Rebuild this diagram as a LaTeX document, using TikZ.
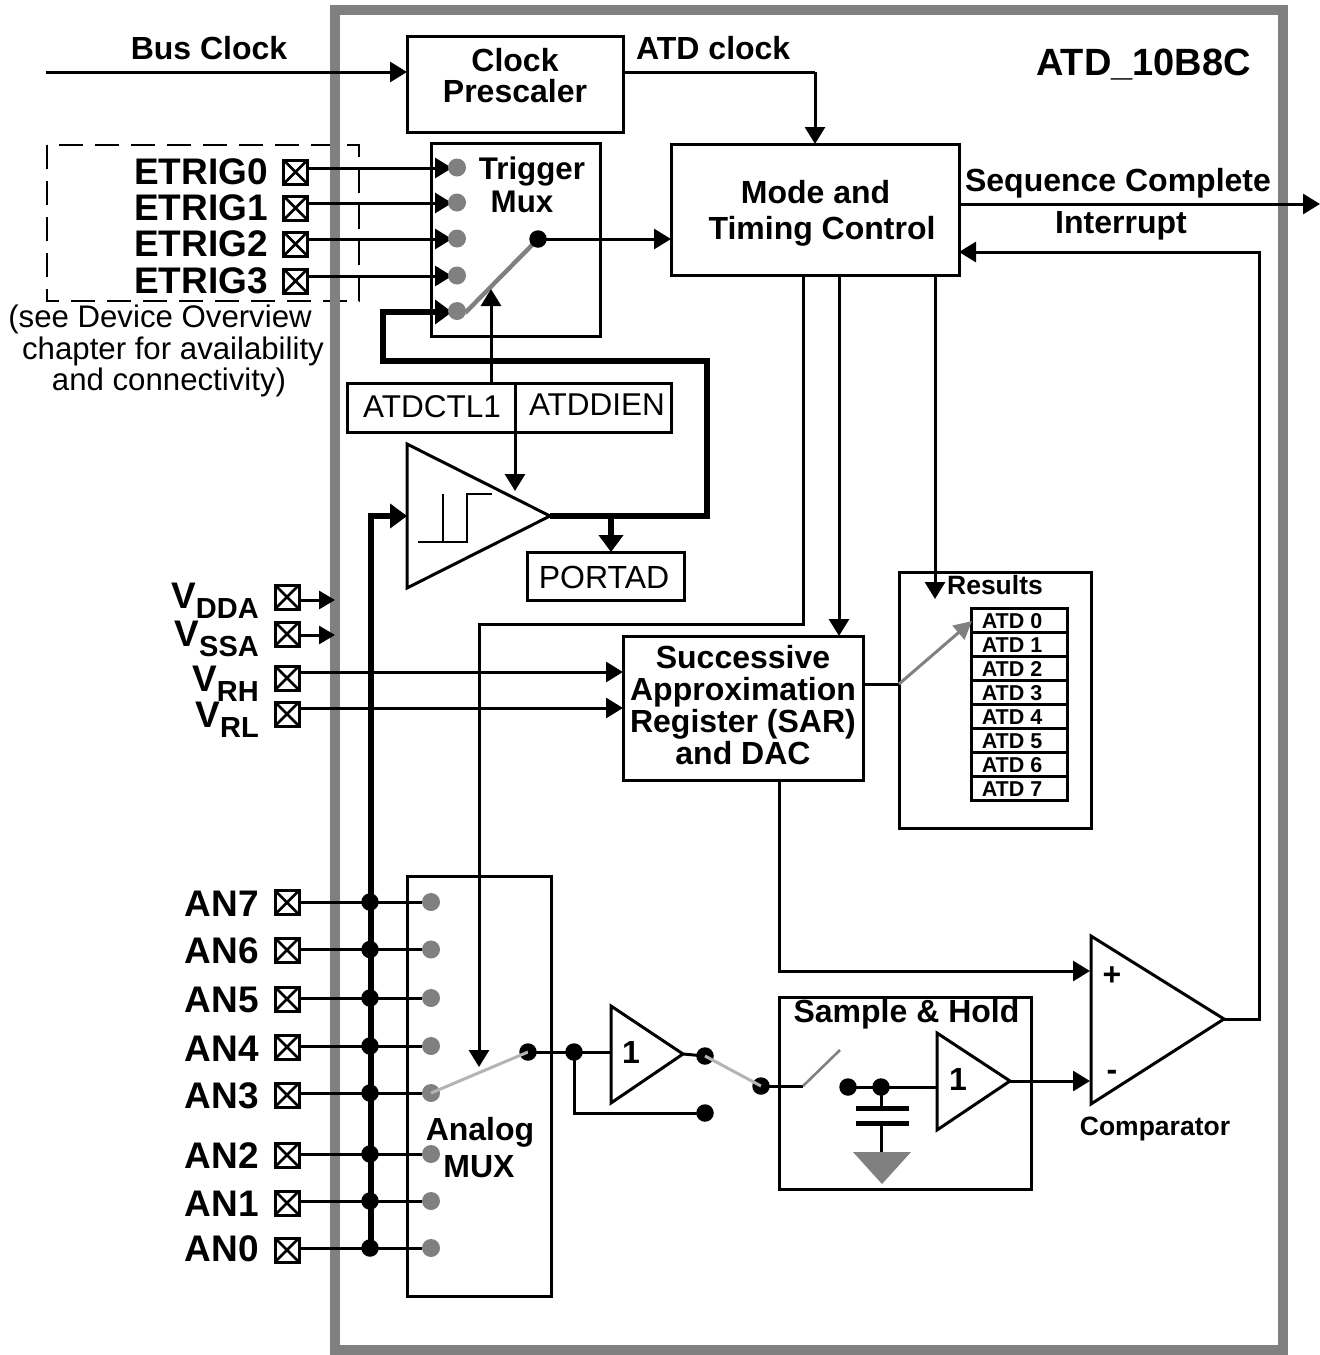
\documentclass[tikz,border=0pt]{standalone}
\usepackage{fontspec}
\setmainfont{Liberation Sans}
\usetikzlibrary{arrows.meta}
\definecolor{fgray}{HTML}{808080}
\definecolor{lgray}{HTML}{B4B4B4}
\tikzset{
  wire/.style={line width=3pt},
  awire/.style={line width=3pt,-{Triangle[length=17pt,width=20pt]}},
  thick wire/.style={line width=5.4pt},
  athick/.style={line width=5.4pt,-{Triangle[length=17pt,width=24pt]}},
  boxn/.style={draw,line width=3pt,inner sep=0pt,outer sep=0pt,align=center},
  pinbox/.style={draw,line width=3pt,minimum width=24pt,minimum height=24pt,inner sep=0pt,outer sep=0pt,
    path picture={\draw[line width=2.6pt] (path picture bounding box.north west) -- (path picture bounding box.south east)
      (path picture bounding box.north east) -- (path picture bounding box.south west);}},
  gdot/.style={circle,fill=fgray,minimum size=18pt,inner sep=0pt,outer sep=0pt},
  bdot/.style={circle,fill=black,minimum size=17.5pt,inner sep=0pt,outer sep=0pt},
  bl/.style={font=\bfseries\fontsize{32}{32}\selectfont,inner sep=0pt,anchor=base},
  bbig/.style={font=\bfseries\fontsize{37}{37}\selectfont,inner sep=0pt,anchor=base east},
  rl/.style={font=\fontsize{31.5}{32}\selectfont,inner sep=0pt,anchor=base},
  nl/.style={font=\fontsize{31.2}{32}\selectfont,inner sep=0pt,anchor=base},
  sl/.style={font=\bfseries\fontsize{26.5}{26}\selectfont,inner sep=0pt,anchor=base},
  tl/.style={font=\bfseries\fontsize{21.5}{21}\selectfont,inner sep=0pt},
  mlabel/.style={font=\bfseries\fontsize{32}{32}\selectfont,inner sep=0pt,align=center},
}
\newcommand{\subV}[1]{V\raisebox{-10pt}{\fontsize{29}{29}\selectfont #1}}
\begin{document}
\begin{tikzpicture}[x=1pt,y=-1pt]
\useasboundingbox (0,0) rectangle (1320,1355);
% dashed optional-pin frame and the block outline
\draw[line width=1.5pt,dash pattern=on 24pt off 12pt] (47,145) rectangle (359,301);
\draw[line width=10pt,fgray] (335,10) rectangle (1283,1350);

% boxes
\node[boxn,minimum width=216pt,minimum height=96pt] (clk) at (515,84) {};
\node[mlabel] (tclk) at (515,76) {Clock\\[-1pt]Prescaler};
\node[boxn,minimum width=169pt,minimum height=193pt] (tmux) at (515.5,239.5) {};
\node[boxn,minimum width=288pt,minimum height=131pt] (mode) at (815,209.5) {};
\node[boxn,minimum width=168pt,minimum height=49pt] (ctl) at (431,407.5) {};
\node[boxn,minimum width=156pt,minimum height=49pt] (dien) at (593,407.5) {};
\node[boxn,minimum width=157pt,minimum height=48pt] (portad) at (605.5,576) {};
\node[boxn,minimum width=240pt,minimum height=144pt] (sar) at (743,708) {};
\node[mlabel] (tsar) at (743,705) {Successive\\Approximation\\Register (SAR)\\and DAC};
\node[boxn,minimum width=192pt,minimum height=256pt] (res) at (995,700) {};
\foreach \i in {0,...,7} {
  \node[boxn,minimum width=96pt,minimum height=24pt] (reg\i) at (1019,620+24*\i) {};
  \node[tl,anchor=base] (regt\i) at (1012,628+24*\i) {ATD \i};
}
\node[boxn,minimum width=144pt,minimum height=420pt] (amux) at (479,1086) {};
\node[boxn,minimum width=252pt,minimum height=192pt] (sh) at (905,1093) {};

% named points
\coordinate (busin) at (46,72);
\coordinate (clkout) at (clk.east |- busin);
\coordinate (atdbend) at (815,72);
\coordinate (hyin) at (407,516);
\coordinate (hyout) at (550,516);
\coordinate (hyr) at (707,516);
\coordinate (hyu) at (707,361);
\coordinate (hyl) at (383,361);
\coordinate (hyi) at (383,312);
\coordinate (padj) at (611,516);
\coordinate (busbot) at (371,1248);
\coordinate (busbend) at (371,516);
\coordinate (muxo) at (538,239);
\coordinate (ctltip) at (491,289);
\coordinate (dientip) at (515,491);
\coordinate (seqout) at (1320,204);
\coordinate (cmpout) at (1224,1019);
\coordinate (cmpr) at (1259,1019);
\coordinate (cmpu) at (1259,252);
\coordinate (m1) at (803,275);
\coordinate (m1b) at (803,624);
\coordinate (m1c) at (479,624);
\coordinate (m1t) at (479,1067);
\coordinate (m2) at (839,275);
\coordinate (m3) at (935,275);
\coordinate (m3t) at (935,599);
\coordinate (sarr) at (899,684);
\coordinate (regtip) at (972,621);
\coordinate (sarb) at (779,971);
\coordinate (cmpp) at (1090,971);
\coordinate (cmpn) at (1090,1081);
\coordinate (b1in) at (611,1052);
\coordinate (b1out) at (683,1054);
\coordinate (b2in) at (937,1087);
\coordinate (b2out) at (1010,1081);
\coordinate (swa) at (803,1086);
\coordinate (swb) at (840,1050);
\coordinate (capt) at (881,1107);
\coordinate (capb) at (881,1123);
\coordinate (gndt) at (881,1152);
\coordinate (lowbend) at (574,1113);

% triangles
\draw[line width=3pt,line join=miter] (407,444) -- (407,588) -- (hyout) -- cycle;
\draw[line width=3pt] (1091,936) -- (1091,1104) -- (cmpout) -- cycle;
\draw[line width=3pt] (611,1006) -- (611,1103) -- (b1out) -- cycle;
\draw[line width=3pt] (937,1033) -- (937,1130) -- (b2out) -- cycle;
% hysteresis symbol
\draw[line width=2.8pt] (418,542) -- (467,542) -- (467,494) -- (492,494) (443,494) -- (443,542) ;

% Bus / clock
\draw[awire] (busin) -- (clk.west |- busin);
\draw[wire] (clkout) -- (atdbend);
\draw[awire] (atdbend) -- (atdbend |- mode.north);

% pins
\foreach \n/\py/\ly/\by/\t in {0/172/168/184/ETRIG0,1/208/203/220/ETRIG1,2/244/239/256/ETRIG2,3/281/276/293/ETRIG3} {
  \node[pinbox] (et\n) at (295.5,\py) {};
  \node[bbig] (ett\n) at (268,\by) {\t};
  \coordinate (ets\n) at (et\n.east |- 0,\ly);
  \coordinate (ete\n) at (452,\ly);
  \draw[awire] (ets\n) -- (ete\n);
  \node[gdot] (td\n) at (457,\ly-0.5) {};
}
\node[nl] (note1) at (160,327) {(see Device Overview};
\node[nl] (note2) at (173,359) {chapter for availability};
\node[nl] (note3) at (169,390) {and connectivity)};

% hysteresis output and thick path
\draw[thick wire,line join=miter] (hyout) -- (hyr) -- (hyu) -- (hyl) -- (hyi) -- ++(10,0);
\draw[athick] (hyi) -- (452,312);
\node[gdot] (td4) at (457,311) {};
\draw[athick] (padj) -- (padj |- portad.north);
\draw[athick,line join=miter] (busbot) -- (busbend) -- (hyin);

% trigger mux switch
\draw[line width=4.4pt,fgray] (td4) -- (466,312) -- (muxo);
\node[bdot] (muxd) at (muxo) {};
\draw[awire] (muxd.center) -- (mode.west |- muxo);
\draw[awire] (ctl.north -| ctltip) -- (ctltip);
\draw[awire] (dien.north west) -- (dientip);

% mode outputs
\draw[awire] (mode.east |- seqout) -- (seqout);
\draw[wire,line join=miter] (cmpout) -- (cmpr) -- (cmpu) -- ++(-20,0);
\draw[awire] (cmpu) -- (mode.east |- cmpu);
\draw[wire,line join=miter] (m1) -- (m1b) -- (m1c) -- ++(0,20);
\draw[awire] (m1c) -- (m1t);
\draw[awire] (m2) -- (m2 |- sar.north);
\draw[awire] (m3) -- (m3t);

% supply pins
\foreach \n/\py/\by/\t in {0/597/608/DDA,1/634/646/SSA,2/678/691/RH,3/714/727/RL} {
  \node[pinbox] (vp\n) at (287,\py) {};
  \node[bbig] (vt\n) at (259,\by) {\subV{\t}};
}
\coordinate (vs0) at (335,600);
\coordinate (vs1) at (335,635);
\draw[awire,-{Triangle[length=16pt,width=18pt]}] (vp0.east |- vs0) -- (vs0);
\draw[awire,-{Triangle[length=16pt,width=18pt]}] (vp1.east |- vs1) -- (vs1);
\coordinate (vrh) at (300,672);
\coordinate (vrl) at (300,708);
\draw[awire] (vrh) -- (sar.west |- vrh);
\draw[awire] (vrl) -- (sar.west |- vrl);

% SAR outputs
\draw[wire] (sar.east |- sarr) -- (sarr);
\draw[line width=3pt,fgray,-{Triangle[length=18pt,width=18pt]}] (sarr) -- (regtip);
\draw[wire,line join=miter] (sar.south -| sarb) -- (sarb) -- ++(20,0);
\draw[awire] (sarb) -- (cmpp);

% analog pins
\foreach \n/\py/\ly/\by/\t in {7/902.5/902/916/AN7,6/950/949.5/963/AN6,5/999/998/1012/AN5,4/1047/1046/1061/AN4,3/1095/1093/1108/AN3,2/1155/1154/1168/AN2,1/1203/1201/1216/AN1,0/1250/1248/1261/AN0} {
  \node[pinbox] (an\n) at (287,\py) {};
  \node[bbig] (ant\n) at (259,\by) {\t};
  \node[gdot] (ad\n) at (431,\ly) {};
  \coordinate (ans\n) at (an\n.east |- 0,\ly);
  \draw[wire] (ans\n) -- (ad\n);
  \node[bdot] (aj\n) at (370,\ly) {};
}

% analog path
\node[bdot] (o1) at (528,1052) {};
\node[bdot] (o2) at (574,1052) {};
\node[bdot] (o3) at (705,1056) {};
\node[bdot] (o4) at (705,1113) {};
\node[bdot] (o5) at (761,1086) {};
\node[bdot] (o6) at (848,1087) {};
\node[bdot] (o7) at (881,1087) {};
\draw[line width=3pt,lgray] (ad3.center) -- (o1.center);
\draw[wire] (o1.center) -- (o2.center) -- (b1in);
\draw[wire,line join=miter] (o2.center) -- (lowbend) -- (o4.center);
\draw[wire] (b1out) -- (o3.center);
\draw[line width=3pt,lgray] (o3.center) -- (o5.center);
\draw[wire] (o5.center) -- (swa);
\draw[line width=2.6pt,fgray] (swa) -- (swb);
\draw[wire] (o6.center) -- (b2in);
\draw[wire] (o7.center) -- (capt);
\draw[line width=5pt] (856,1108) -- (909,1108) (856,1123) -- (909,1123);
\draw[wire] (capb) -- (gndt);
\fill[fgray] (853,1152) -- (911,1152) -- (882,1184) -- cycle;
\draw[awire] (b2out) -- (cmpn);

% texts
\node[bl] (tbus) at (209,59) {Bus Clock};
\node[bl,anchor=base west] (tatd) at (636,59) {ATD clock};
\node[font=\bfseries\fontsize{38}{38}\selectfont,inner sep=0pt,anchor=base] (ttitle) at (1143.5,75) {ATD\_10B8C};
\node[bl,font=\bfseries\fontsize{31.3}{31}\selectfont] (ttrig) at (532,179) {Trigger};
\node[bl,font=\bfseries\fontsize{31.3}{31}\selectfont] (tmuxl) at (522,212) {Mux};
\node[bl] (tmode) at (815.5,203) {Mode and};
\node[bl] (ttim) at (822,239.5) {Timing Control};
\node[bl] (tseq) at (1118,191) {Sequence Complete};
\node[bl] (tint) at (1121,233) {Interrupt};
\node[rl] (tctl) at (432,417) {ATDCTL1};
\node[rl] (tdien) at (597,415) {ATDDIEN};
\node[rl,font=\fontsize{32}{32}\selectfont] (tport) at (604,588) {PORTAD};
\node[sl] (tres) at (995,594) {Results};
\node[bl] (tana) at (480,1140) {Analog};
\node[bl] (tmx) at (479,1177) {MUX};
\node[bl] (tsh) at (906.5,1022) {Sample \& Hold};
\node[bl] (tone) at (631,1063) {1};
\node[bl] (ttwo) at (958,1090) {1};
\node[bl] (tplus) at (1112,985) {+};
\node[bl] (tminus) at (1112,1080) {-};
\node[sl] (tcmp) at (1155,1135) {Comparator};
\end{tikzpicture}
\end{document}
